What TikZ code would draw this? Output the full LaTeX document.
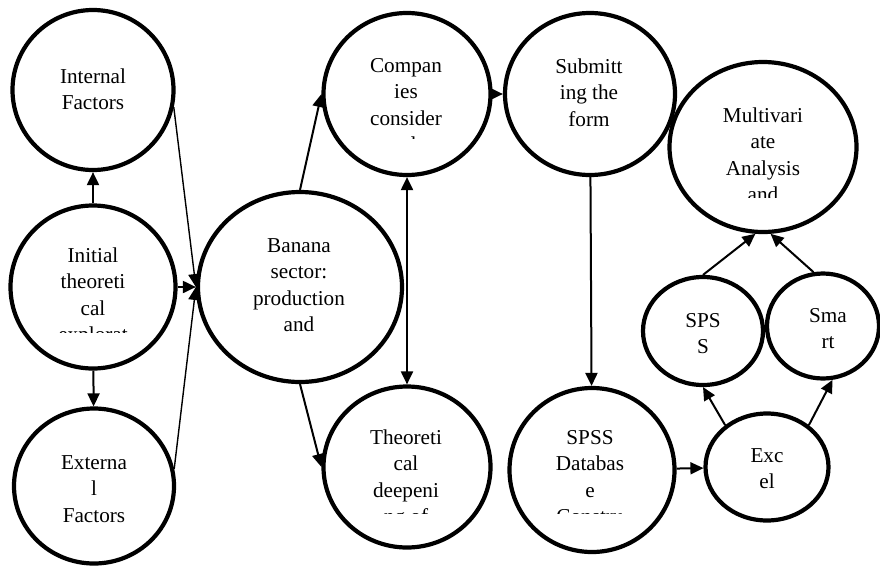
\documentclass[tikz,border=0pt]{standalone}
\usepackage{fontspec}
\setmainfont{Liberation Serif}
\usetikzlibrary{shapes.geometric,arrows.meta}

\begin{document}
\begin{tikzpicture}[x=1pt,y=-1pt,>={Triangle[length=13pt,width=12pt]},
  bubble/.style={draw,ellipse,line width=4.2pt,inner sep=0pt},
  lbl/.style={align=center,anchor=base,inner sep=0pt,font=\fontsize{21.2}{26.5}\selectfont},
  conn/.style={->,line width=2pt},
  slim/.style={->,line width=1.4pt}]

\useasboundingbox (0,0) rectangle (880,565);

% bubbles
\node[bubble,minimum width=161pt,minimum height=160pt] (intf)   at (93,90)   {};
\node[bubble,minimum width=165pt,minimum height=163pt] (init)   at (93,287)  {};
\node[bubble,minimum width=160pt,minimum height=155pt] (extf)   at (94,486)  {};
\node[bubble,minimum width=204pt,minimum height=190pt] (banana) at (300,287) {};
\node[bubble,minimum width=167pt,minimum height=162pt] (comp)   at (407,94)  {};
\node[bubble,minimum width=170pt,minimum height=162pt] (subm)   at (590,94)  {};
\node[bubble,minimum width=167pt,minimum height=161pt] (theo)   at (407,467) {};
\node[bubble,minimum width=165pt,minimum height=164pt] (spssdb) at (592,470) {};
\node[bubble,minimum width=187pt,minimum height=170pt] (multi)  at (763,147) {};
\node[bubble,minimum width=120pt,minimum height=108pt] (spss)   at (703,331) {};
\node[bubble,minimum width=112pt,minimum height=105pt] (smart)  at (823,326) {};
\node[bubble,minimum width=123pt,minimum height=107pt] (excel)  at (767,467) {};

% texts (anchor base = last line)
\node[lbl] (intf-t)   at (93,109.5)  {Internal\\Factors};
\begin{scope}
  \clip (0,200) rectangle (190,332);
  \node[lbl] (init-t) at (93,341.5) {Initial\\theoreti\\cal\\explorat};
\end{scope}
\node[lbl] (extf-t)   at (94,522)    {Externa\\l\\Factors};
\node[lbl] (banana-t) at (299,331.5) {Banana\\sector:\\production\\and};
\begin{scope}
  \clip (320,0) rectangle (495,138);
  \node[lbl] (comp-t) at (406,151.5) {Compan\\ies\\consider\\ed};
\end{scope}
\node[lbl] (subm-t)   at (589,126)   {Submitt\\ing the\\form};
\begin{scope}
  \clip (320,390) rectangle (495,513);
  \node[lbl] (theo-t) at (406,523.5) {Theoreti\\cal\\deepeni\\ng of};
\end{scope}
\begin{scope}
  \clip (505,390) rectangle (680,513);
  \node[lbl] (spssdb-t) at (590,523.5) {SPSS\\Databas\\e\\Constru};
\end{scope}
\begin{scope}
  \clip (670,60) rectangle (860,197);
  \node[lbl] (multi-t) at (763,201.5) {Multivari\\ate\\Analysis\\and};
\end{scope}
\node[lbl] (spss-t)   at (703,353.5) {SPS\\S};
\node[lbl] (smart-t)  at (828,348.5) {Sma\\rt};
\node[lbl] (excel-t)  at (767,488.5) {Exc\\el};

% connectors
\draw[conn] (init) -- (intf);
\draw[conn] (init) -- (extf);
\draw[conn] (init) -- (banana.west);
\draw[slim] (intf.-12) -- (banana.west);
\draw[slim] (extf.12) -- (banana.west);
\draw[conn] (banana.north) -- (comp.west);
\draw[conn] (banana.south) -- (theo.west);
\draw[conn,<->] (comp) -- (theo);
\draw[conn] (comp) -- (subm);
\draw[conn] (subm) -- (spssdb);
\draw[conn] (spssdb) -- (excel);
\draw[conn] (excel.135) -- (spss.south);
\draw[conn] (excel.45) -- (smart.-80);
\draw[conn] (spss.north) -- (multi.-95);
\draw[conn] (smart.100) -- (multi.-85);

\end{tikzpicture}
\end{document}
